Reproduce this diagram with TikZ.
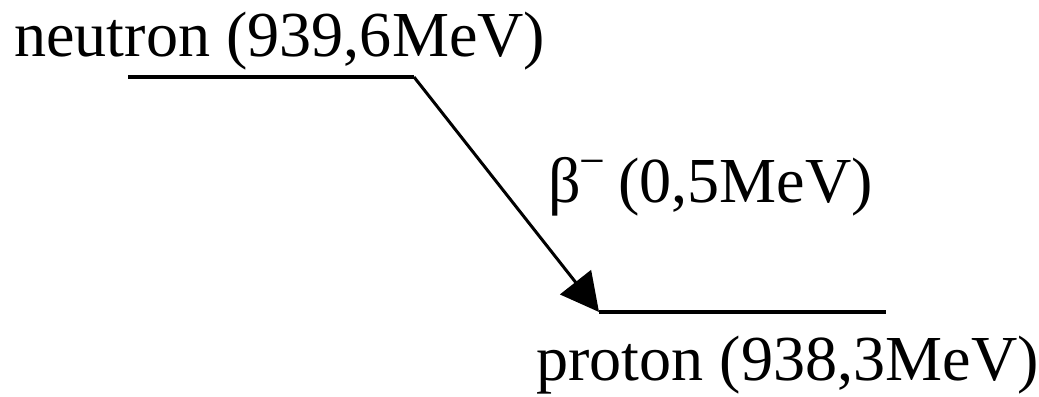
\documentclass[tikz,border=0pt]{standalone}
\usepackage{fontspec}
\setmainfont{Liberation Serif}
\usepackage{tikz}
\usetikzlibrary{arrows.meta, positioning}

\begin{document}
\begin{tikzpicture}[>={Triangle[length=0.76cm, width=0.78cm]},
    level/.style={line width=0.08cm},
    label/.style={inner sep=0pt, anchor=base west, font=\fontsize{36.5}{44}\selectfont}]
    % 0. Khung
    \useasboundingbox (0,0) rectangle (20.78,7.94);

    % 1. Các mức năng lượng
    \coordinate (nL) at (2.56,6.4);
    \coordinate (nR) at (8.28,6.4);
    \coordinate (pL) at (11.98,1.7);
    \coordinate (pR) at (17.72,1.7);
    \draw[level] (nL) -- (nR);
    \draw[level] (pL) -- (pR);

    % 2. Nhãn
    \node[label] (neutron) at (0.28,6.8) {neutron (939,6MeV)};
    \node[label] (proton) at (10.72,0.32) {proton (938,3MeV)};
    \node[label] (beta) at (10.96,3.88) {β\kern-0.02em\raisebox{0.42em}{\fontsize{26}{26}\selectfont −}\kern-0.05em{} (0,5MeV)};

    % 3. Phân rã beta
    \draw[->, line width=0.06cm] (nR) -- (pL);
\end{tikzpicture}
\end{document}
